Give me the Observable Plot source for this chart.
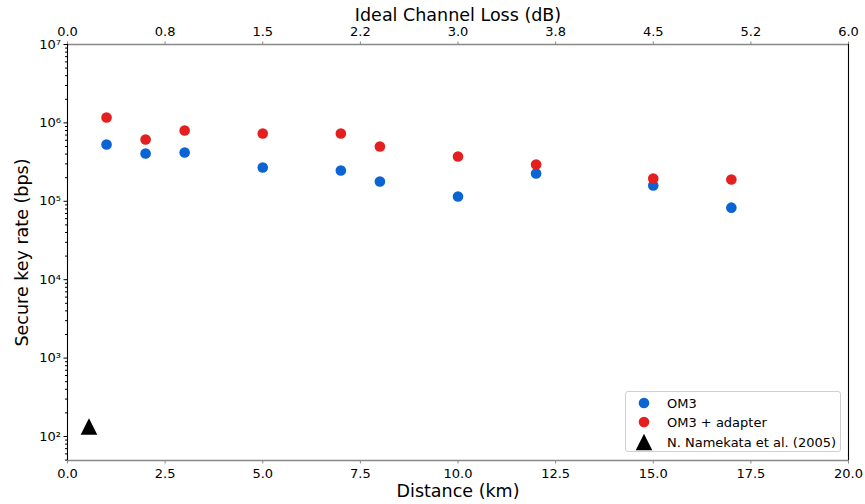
<!DOCTYPE html>
<html>
<head>
<meta charset="utf-8">
<script src="https://cdn.jsdelivr.net/npm/d3@7"></script>
<script src="https://cdn.jsdelivr.net/npm/@observablehq/plot@0.6"></script>
<style>
  html, body { margin: 0; padding: 0; background: white; }
  #wrap { position: relative; width: 865px; height: 504px; font-family: "DejaVu Sans", sans-serif; }
  #legend { position: absolute; left: 625px; top: 391px; width: 216px; height: 61px; box-sizing: border-box;
    border: 1px solid #d0d0d0; border-radius: 3px; background: rgba(255,255,255,0.85); font-size: 13px; color: #000; }
  .item { position: absolute; left: 0; height: 18px; display: flex; align-items: center; }
  .item svg { position: absolute; left: 8px; }
  .item span { position: absolute; left: 41px; white-space: nowrap; }
</style>
</head>
<body>
<div id="wrap"></div>
<script>
// ---- Data ----
const distances = [1, 2, 3, 5, 7, 8, 10, 12, 15, 17];           // km
const om3Rates = [530000, 407000, 419000, 270000, 247000, 179000, 115000, 226000, 159000, 83000];
const om3AdapterRates = [1170000, 614000, 800000, 733000, 733000, 500000, 373000, 294000, 195000, 190000];
const namekataDistance = [0.55];
const namekataRates = [134];

const seriesNames = ["OM3", "OM3 + adapter", "N. Namekata et al. (2005)"];
const seriesColors = ["#0a64d4", "#e41f1f", "#000000"];

const distanceTicks = [0, 2.5, 5, 7.5, 10, 12.5, 15, 17.5, 20];
const distanceTickLabels = ["0.0", "2.5", "5.0", "7.5", "10.0", "12.5", "15.0", "17.5", "20.0"];
const lossTickLabels = ["0.0", "0.8", "1.5", "2.2", "3.0", "3.8", "4.5", "5.2", "6.0"];
const rateTicks = [1e2, 1e3, 1e4, 1e5, 1e6, 1e7];
const rateTickLabels = ["10²", "10³", "10⁴", "10⁵", "10⁶", "10⁷"];

const xLabel = "Distance (km)";
const topLabel = "Ideal Channel Loss (dB)";
const yLabel = "Secure key rate (bps)";

// ---- Derived tables ----
const om3 = distances.map((d, i) => ({distance: d, rate: om3Rates[i]}));
const om3Adapter = distances.map((d, i) => ({distance: d, rate: om3AdapterRates[i]}));
const namekata = namekataDistance.map((d, i) => ({distance: d, rate: namekataRates[i]}));

const yDomain = [49.4, 1e7];
const minorTicks = [];
for (let e = 1; e < 7; e++) for (let m = 2; m <= 9; m++) {
  const v = m * Math.pow(10, e);
  if (v >= yDomain[0] && v <= yDomain[1]) minorTicks.push(v);
}
const bottomFmt = new Map(distanceTicks.map((d, i) => [d, distanceTickLabels[i]]));
const topFmt = new Map(distanceTicks.map((d, i) => [d, lossTickLabels[i]]));
const yFmt = new Map(rateTicks.map((d, i) => [d, rateTickLabels[i]]));

// matplotlib-style '^' marker: bounding box centred on the point
const triangleUp = {
  draw(context, size) {
    const a = Math.sqrt(size / Math.PI);
    context.moveTo(0, -a);
    context.lineTo(a, a);
    context.lineTo(-a, a);
    context.closePath();
  }
};

const chart = Plot.plot({
  width: 865,
  height: 504,
  marginLeft: 67,
  marginRight: 17,
  marginTop: 44,
  marginBottom: 44,
  style: {fontFamily: "DejaVu Sans, sans-serif", fontSize: "13px", color: "#000", background: "white", overflow: "visible"},
  x: {domain: [0, 20]},
  y: {type: "log", domain: yDomain},
  marks: [
    Plot.axisY(minorTicks, {tickSize: 2, tickFormat: () => "", label: null, stroke: "#000"}),
    Plot.axisY(rateTicks, {tickSize: 3.5, tickPadding: 3, tickFormat: d => yFmt.get(d), label: null, stroke: "#000"}),
    Plot.axisX(distanceTicks, {anchor: "bottom", tickSize: 3.5, tickPadding: 5, tickFormat: d => bottomFmt.get(d), label: null, stroke: "#888", fill: "#000"}),
    Plot.axisX(distanceTicks, {anchor: "top", tickSize: 3.5, tickPadding: 5, tickFormat: d => topFmt.get(d), label: null, stroke: "#888", fill: "#000"}),
    Plot.ruleY([yDomain[0], yDomain[1]], {stroke: "#888", strokeWidth: 1.3}),
    Plot.ruleX([0, 20], {stroke: "#000", strokeWidth: 1.1}),
    Plot.dot(om3, {x: "distance", y: "rate", r: 5.3, fill: seriesColors[0], stroke: "none"}),
    Plot.dot(om3Adapter, {x: "distance", y: "rate", r: 5.3, fill: seriesColors[1], stroke: "none"}),
    Plot.dot(namekata, {x: "distance", y: "rate", r: 8.3, symbol: triangleUp, fill: seriesColors[2], stroke: "none"}),
    Plot.text([xLabel], {text: d => d, frameAnchor: "bottom", lineAnchor: "middle", textAnchor: "middle", dy: 31, fontSize: 17.5, fill: "#000"}),
    Plot.text([topLabel], {text: d => d, frameAnchor: "top", lineAnchor: "middle", textAnchor: "middle", dy: -29, fontSize: 17.5, fill: "#000"}),
    Plot.text([yLabel], {text: d => d, frameAnchor: "left", lineAnchor: "middle", textAnchor: "middle", dx: -45, rotate: -90, fontSize: 17.5, fill: "#000"})
  ]
});

const wrap = document.getElementById("wrap");
wrap.appendChild(chart);

// ---- Legend ----
const legend = document.createElement("div");
legend.id = "legend";
const rowTops = [2, 21, 41];
seriesNames.forEach((name, i) => {
  const item = document.createElement("div");
  item.className = "item";
  item.style.top = rowTops[i] + "px";
  let marker;
  if (i < 2) {
    marker = `<svg width="20" height="18" viewBox="-10 -9 20 18"><circle r="5.3" fill="${seriesColors[i]}"/></svg>`;
  } else {
    marker = `<svg width="20" height="18" viewBox="-10 -9 20 18"><path d="M0,-8.3L8.3,8.3L-8.3,8.3Z" fill="${seriesColors[i]}"/></svg>`;
  }
  item.innerHTML = marker + `<span>${name}</span>`;
  legend.appendChild(item);
});
wrap.appendChild(legend);
</script>
</body>
</html>
